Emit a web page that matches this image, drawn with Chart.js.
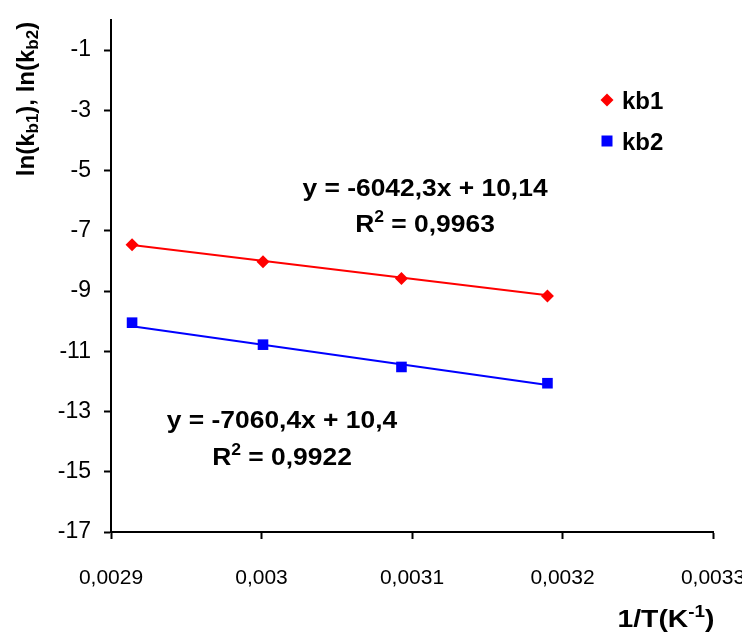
<!DOCTYPE html>
<html>
<head>
<meta charset="utf-8">
<script src="https://cdn.jsdelivr.net/npm/chart.js@4"></script>
<style>
html,body{margin:0;padding:0;background:#fff;}
#wrap{width:742px;height:634px;}
</style>
</head>
<body>
<div id="wrap"><canvas id="c" width="742" height="634"></canvas></div>
<script>
// ---- data ----
const invT = [0.002914, 0.003001, 0.003093, 0.003190];
const kb1 = [-7.46, -8.03, -8.58, -9.16];
const kb2 = [-10.05, -10.78, -11.52, -12.06];
const trendX = [0.002914, 0.003190];
const kb1Trend = [-7.47, -9.14];
const kb2Trend = [-10.17, -12.12];
const xTicks = [0.0029, 0.003, 0.0031, 0.0032, 0.0033];
const xTickLabels = ['0,0029', '0,003', '0,0031', '0,0032', '0,0033'];
const yTicks = [-17, -15, -13, -11, -9, -7, -5, -3, -1];
const yTickLabels = ['-17', '-15', '-13', '-11', '-9', '-7', '-5', '-3', '-1'];
const seriesNames = ['kb1', 'kb2'];
const eq1 = ['y = -6042,3x + 10,14', '0,9963'];
const eq2 = ['y = -7060,4x + 10,4', '0,9922'];

const FONT = "'Liberation Sans', Arial, sans-serif";
const RED = '#ff0000', BLUE = '#0000ff';
const MAIN = 24, SMALL = 16, EQX = 1.1;

function pts(xs, ys) { return xs.map((x, i) => ({x: x, y: ys[i]})); }

function drawSegments(ctx, segs, x, y) {
  for (const s of segs) {
    ctx.font = 'bold ' + s[1] + 'px ' + FONT;
    ctx.fillText(s[0], x, y + s[2]);
    x += ctx.measureText(s[0]).width;
  }
}
function segWidth(ctx, segs) {
  let w = 0;
  for (const s of segs) { ctx.font = 'bold ' + s[1] + 'px ' + FONT; w += ctx.measureText(s[0]).width; }
  return w;
}
function drawStretched(ctx, segs, cx, y, sx) {
  ctx.save();
  ctx.translate(cx, y);
  ctx.scale(sx, 1);
  ctx.textAlign = 'left';
  ctx.textBaseline = 'alphabetic';
  const w = segWidth(ctx, segs);
  drawSegments(ctx, segs, -w / 2, 0);
  ctx.restore();
}

const annot = {
  id: 'annot',
  afterDraw(chart) {
    const ctx = chart.ctx;
    ctx.save();
    ctx.fillStyle = '#000';
    // equations
    drawStretched(ctx, [[eq1[0], MAIN, 0]], 425, 196, EQX);
    drawStretched(ctx, [['R', MAIN, 0], ['2', SMALL, -10], [' = ' + eq1[1], MAIN, 0]], 425, 232, EQX);
    drawStretched(ctx, [[eq2[0], MAIN, 0]], 282, 428, EQX);
    drawStretched(ctx, [['R', MAIN, 0], ['2', SMALL, -10], [' = ' + eq2[1], MAIN, 0]], 282, 465, EQX);

    // legend
    const ds = chart.data.datasets;
    const ly = [100, 141];
    [0, 1].forEach((i) => {
      const d = ds[i];
      ctx.fillStyle = d.backgroundColor;
      ctx.beginPath();
      if (d.pointStyle === 'rectRot') {
        ctx.moveTo(607, ly[i] - 6.5); ctx.lineTo(613.5, ly[i]); ctx.lineTo(607, ly[i] + 6.5); ctx.lineTo(600.5, ly[i]);
      } else {
        ctx.rect(601.5, ly[i] - 5.5, 11, 11);
      }
      ctx.closePath(); ctx.fill();
      ctx.fillStyle = '#000';
      ctx.font = 'bold ' + MAIN + 'px ' + FONT;
      ctx.textAlign = 'left';
      ctx.textBaseline = 'alphabetic';
      ctx.fillText(seriesNames[i], 622, ly[i] + 9);
    });

    // x axis title
    drawStretched(ctx, [['1/T(K', MAIN, 0], ['-1', SMALL, -10], [')', MAIN, 0]], 666, 627, 1.18);

    // y axis title (rotated)
    ctx.textAlign = 'left';
    ctx.textBaseline = 'alphabetic';
    const yt = [['ln(k', MAIN, 0], ['b1', SMALL + 1, 4], ['), ln(k', MAIN, 0], ['b2', SMALL + 1, 4], [')', MAIN, 0]];
    const yw = segWidth(ctx, yt);
    ctx.translate(34, 99);
    ctx.rotate(-Math.PI / 2);
    drawSegments(ctx, yt, -yw / 2, 0);
    ctx.restore();
  }
};

new Chart(document.getElementById('c'), {
  type: 'scatter',
  data: {
    datasets: [
      { label: seriesNames[0], data: pts(invT, kb1), pointStyle: 'rectRot', pointRadius: 6.5, pointHoverRadius: 6.5,
        backgroundColor: RED, borderColor: RED, borderWidth: 0, showLine: false, order: 0 },
      { label: seriesNames[1], data: pts(invT, kb2), pointStyle: 'rect', pointRadius: 7.5, pointHoverRadius: 7.5,
        backgroundColor: BLUE, borderColor: BLUE, borderWidth: 0, showLine: false, order: 0 },
      { label: 'trend kb1', data: pts(trendX, kb1Trend), showLine: true, pointRadius: 0, borderColor: RED, borderWidth: 2, order: 1 },
      { label: 'trend kb2', data: pts(trendX, kb2Trend), showLine: true, pointRadius: 0, borderColor: BLUE, borderWidth: 2, order: 1 }
    ]
  },
  options: {
    responsive: false,
    animation: false,
    devicePixelRatio: 1,
    layout: { padding: { left: 0, top: 20, right: 29, bottom: 0 } },
    plugins: { legend: { display: false }, tooltip: { enabled: false } },
    scales: {
      x: {
        type: 'linear', min: 0.0029, max: 0.0033,
        afterBuildTicks: (s) => { s.ticks = xTicks.map(v => ({value: v})); },
        afterFit: (s) => { s.height = 102; s.paddingLeft = 0; s.paddingRight = 0; },
        ticks: {
          autoSkip: false, maxRotation: 0, padding: 27, color: '#000',
          font: { family: FONT, size: 21 },
          callback: (v) => { const i = xTicks.findIndex(t => Math.abs(t - v) < 1e-9); return i >= 0 ? xTickLabels[i] : ''; }
        },
        grid: { drawOnChartArea: false, drawTicks: true, tickLength: 7, color: '#000', tickWidth: 2 },
        border: { display: true, color: '#000', width: 2 }
      },
      y: {
        type: 'linear', min: -17, max: 0,
        afterBuildTicks: (s) => { s.ticks = yTicks.map(v => ({value: v})); },
        afterFit: (s) => { s.width = 111; s.paddingTop = 0; s.paddingBottom = 0; },
        ticks: {
          autoSkip: false, padding: 13, color: '#000',
          font: { family: FONT, size: 23 },
          callback: (v) => { const i = yTicks.indexOf(v); return i >= 0 ? yTickLabels[i] : ''; }
        },
        grid: { drawOnChartArea: false, drawTicks: true, tickLength: 7, color: '#000', tickWidth: 2 },
        border: { display: true, color: '#000', width: 2 }
      }
    }
  },
  plugins: [annot]
});
</script>
</body>
</html>
